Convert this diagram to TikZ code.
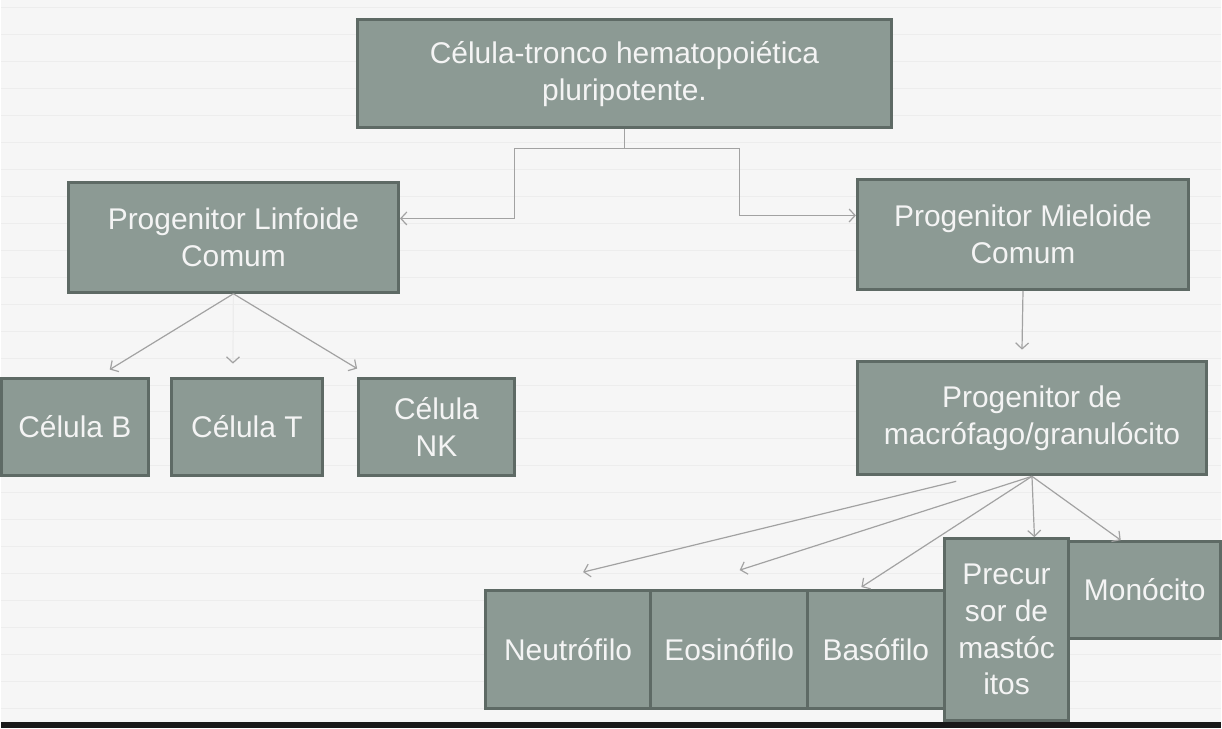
\documentclass[tikz,border=0pt]{standalone}
\usepackage{fontspec}
\setmainfont{Liberation Sans}
\usetikzlibrary{arrows.meta}

\definecolor{boxfill}{HTML}{8C9A94}
\definecolor{boxline}{HTML}{5E6A65}
\definecolor{boxtext}{HTML}{F4F4F4}
\definecolor{linkgray}{HTML}{A2A2A2}
\definecolor{paper}{HTML}{F6F6F6}
\definecolor{stripe}{HTML}{EDEDED}

\tikzset{
    cell/.style={draw=boxline, fill=boxfill, line width=3pt, text=boxtext,
        align=center, inner sep=0pt,
        font=\fontsize{30}{37}\selectfont},
    link/.style={draw=linkgray, line width=1.2pt,
        -{Straight Barb[length=6pt,width=13pt,color=linkgray]}},
}

\begin{document}
\begin{tikzpicture}[x=1pt,y=-1pt]
            \fill[paper] (0,0) rectangle (1222,730);
            \foreach \yy in {8,35,...,720}
                \draw[stripe, line width=1pt] (0,\yy)--(1222,\yy);

            \node[cell, minimum width=535, minimum height=108] (stem) at (624.5,74) {Célula-tronco hematopoiética\\pluripotente.};
            \node[cell, minimum width=331, minimum height=110] (linf) at (232.5,238) {Progenitor Linfoide\\Comum};
            \node[cell, minimum width=332, minimum height=110] (miel) at (1024,235) {Progenitor Mieloide\\Comum};
            \node[cell, minimum width=350, minimum height=114] (macro) at (1033,419) {Progenitor de\\macrófago/granulócito};

            \node[cell, minimum width=147, minimum height=98] (celB) at (73.5,428) {Célula B};
            \node[cell, minimum width=152, minimum height=98] (celT) at (246,428) {Célula T};
            \node[cell, minimum width=156, minimum height=98] (celNK) at (436,428) {Célula\\NK};

            \node[cell, minimum width=166, minimum height=118] (neutro) at (568,651) {Neutrófilo};
            \node[cell, minimum width=157, minimum height=118] (eosino) at (729.5,651) {Eosinófilo};
            \node[cell, minimum width=137, minimum height=118] (baso) at (876.5,651) {Basófilo};
            \node[cell, minimum width=125, minimum height=182] (mast) at (1007.5,631) {Precur\\sor de\\mastóc\\itos};
            \node[cell, minimum width=152, minimum height=97] (mono) at (1146,591.5) {Monócito};

            \fill[black!90] (0,724) rectangle (1222,730);

            \coordinate (splitL) at (514,219);
            \coordinate (splitR) at (740,216);
            \coordinate (macroN) at ([xshift=-76pt,yshift=-5pt]macro.south);

            \draw[link] (stem.south) -- ++(0,19) -| (splitL) -- ([yshift=19pt]linf.east);
            \draw[link] (stem.south) -- ++(0,19) -| (splitR) -- ([yshift=19pt]miel.west);

            \draw[link] (linf.south) -- ([xshift=35pt,yshift=7pt]celB.north);
            \draw[link, draw=linkgray!20] (linf.south) -- ([xshift=-14pt,yshift=13pt]celT.north);
            \draw[link] (linf.south) -- ([yshift=8pt]celNK.north west);

            \draw[link] (miel.south) -- ([xshift=-10pt,yshift=10pt]macro.north);

            \draw[link] (macroN) -- ([xshift=15pt,yshift=17pt]neutro.north);
            \draw[link] (macro.south) -- ([xshift=10.5pt,yshift=19pt]eosino.north);
            \draw[link] (macro.south) -- ([xshift=-14.5pt,yshift=2pt]baso.north);
            \draw[link] (macro.south) -- ([xshift=28pt]mast.north);
            \draw[link] (macro.south) -- ([xshift=-24pt]mono.north);
\end{tikzpicture}
\end{document}
